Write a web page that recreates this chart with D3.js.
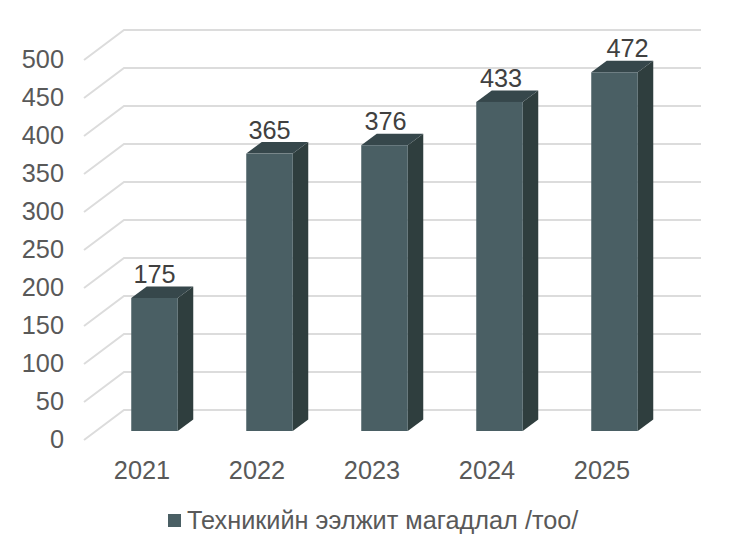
<!DOCTYPE html>
<html><head><meta charset="utf-8">
<script src="https://cdn.jsdelivr.net/npm/d3@7/dist/d3.min.js"></script>
<style>html,body{margin:0;padding:0;background:#fff}svg{display:block}text{font-family:"Liberation Sans",Arial,sans-serif}</style>
</head><body><svg id="c" width="735" height="552"></svg>
<script>
const categories = ["2021","2022","2023","2024","2025"];
const values = [175,365,376,433,472];
const yTicks = [0,50,100,150,200,250,300,350,400,450,500];
const seriesName = "Техникийн ээлжит магадлал /тоо/";

const svg = d3.select("#c");
const fs = 25.3;
const x = d3.scaleBand().domain(categories).range([84.5,659.5]).padding(0);
const wall = d3.scaleLinear().domain([0,500]).range([410,30]);
const front = d3.scaleLinear().domain([0,500]).range([431,51]);
const tickY = d3.scaleLinear().domain([0,500]).range([439.5,59.5]);
const skew = {dx:40,dy:30}, depth = {dx:15.5,dy:11.5};
const barW = 46.5;
const cFront="#4a5f64", cTop="#36474b", cSide="#2f3e3e";

const grid = svg.append("g").attr("fill","none").attr("stroke","#dcdcdc").attr("stroke-width",2);
grid.selectAll("path").data(yTicks).join("path")
  .attr("d",d=>`M${124-skew.dx},${wall(d)+skew.dy}L124,${wall(d)}H701`);

svg.append("g").selectAll("text").data(yTicks).join("text")
  .attr("x",64).attr("y",d=>tickY(d)).attr("dy","0.35em").attr("text-anchor","end")
  .attr("font-size",fs).attr("fill","#595959").text(d=>d);

svg.append("g").selectAll("text").data(categories).join("text")
  .attr("x",d=>x(d)+x.bandwidth()/2).attr("y",478.5).attr("text-anchor","middle")
  .attr("font-size",fs).attr("fill","#595959").text(d=>d);

const bars = svg.append("g").selectAll("g").data(values).join("g");
const left = (d,i)=>x(categories[i])+x.bandwidth()/2+12.5-barW/2;
bars.append("path").attr("fill",cSide).attr("d",(d,i)=>{
  const l=left(d,i)+barW;
  return `M${l},${front(0)}V${front(d)}l${depth.dx},${-depth.dy}V${front(0)-depth.dy}Z`;});
bars.append("path").attr("fill",cTop).attr("d",(d,i)=>{
  const l=left(d,i);
  return `M${l},${front(d)}h${barW}l${depth.dx},${-depth.dy}h${-barW}Z`;});
bars.append("rect").attr("fill",cFront)
  .attr("x",(d,i)=>left(d,i)).attr("y",d=>front(d)).attr("width",barW).attr("height",d=>front(0)-front(d));
const labelShift = [0,0,1,1.5,13];
bars.append("text").attr("font-size",fs).attr("fill","#404040").attr("text-anchor","middle")
  .attr("x",(d,i)=>left(d,i)+barW/2+labelShift[i]).attr("y",d=>front(d)-depth.dy-3.5).text(d=>d);

svg.append("rect").attr("x",168).attr("y",514).attr("width",13).attr("height",13).attr("fill",cFront);
svg.append("text").attr("x",187).attr("y",529).attr("font-size",fs).attr("fill","#595959").text(seriesName);
</script></body></html>
